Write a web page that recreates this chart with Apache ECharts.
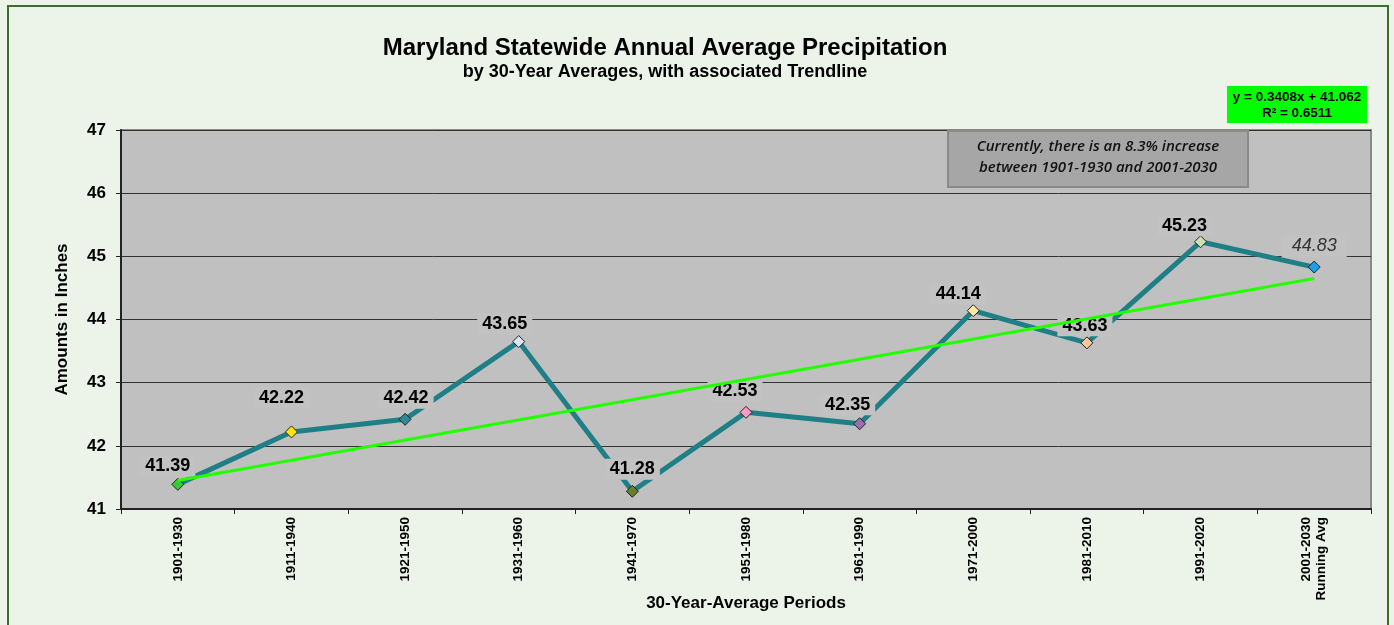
<!DOCTYPE html>
<html>
<head>
<meta charset="utf-8">
<script src="https://cdn.jsdelivr.net/npm/echarts@6/dist/echarts.min.js"></script>
<style>html,body{margin:0;padding:0;background:#ECF4E9;}#c{width:1394px;height:625px;}</style>
</head>
<body>
<div id="c"></div>
<script>
var categories = ['1901-1930','1911-1940','1921-1950','1931-1960','1941-1970','1951-1980','1961-1990','1971-2000','1981-2010','1991-2020','2001-2030\nRunning Avg'];
var precip = [41.39, 42.22, 42.42, 43.65, 41.28, 42.53, 42.35, 44.14, 43.63, 45.23, 44.83];
var markerColors = ['#33CC33','#FFE600','#2E8A94','#D8E4F4','#6B7F2A','#FF99CC','#9B6FAF','#FFE8A0','#FFC89A','#CCE0B4','#1AA0E8'];
var trendStart = 41.45;
var trendEnd = 44.65;
var yTicks = [41, 42, 43, 44, 45, 46, 47];
var labelDx = [-10, -10, 1, -14, 0, -11, -12, -15, -2, -16, 0];
var labelDy = [-18, -34, -21, -18, -22, -21, -19, -17, -17, -16, -21];

var FONT = 'Liberation Sans, Arial, sans-serif';
var chart = echarts.init(document.getElementById('c'), null, {renderer:'canvas'});

var lineData = precip.map(function(v, i){
  var last = i === precip.length - 1;
  return {
    value: v,
    itemStyle: {color: markerColors[i], borderColor: '#222', borderWidth: 1},
    label: {
      show: true,
      position: 'inside',
      offset: [labelDx[i], labelDy[i]],
      formatter: function(p){ return p.value.toFixed(2); },
      fontFamily: FONT,
      fontSize: 18,
      fontWeight: last ? 'normal' : 'bold',
      fontStyle: last ? 'italic' : 'normal',
      color: last ? '#333' : '#000',
      backgroundColor: '#C2C2C2',
      padding: last ? [2, 10, 2, 10] : [2, 5, 1, 5]
    }
  };
});

var trendData = precip.map(function(v, i){
  if (i === 0) return trendStart;
  if (i === precip.length - 1) return trendEnd;
  return null;
});

chart.setOption({
  animation: false,
  backgroundColor: '#ECF4E9',
  title: [{
    text: 'Maryland Statewide Annual Average Precipitation',
    left: 660, top: 31, textAlign: 'center',
    textStyle: {fontFamily: FONT, fontSize: 24, fontWeight: 'bold', color: '#000'}
  },{
    text: 'by 30-Year Averages, with associated Trendline',
    left: 660, top: 58, textAlign: 'center',
    textStyle: {fontFamily: FONT, fontSize: 18, fontWeight: 'bold', color: '#000'}
  }],
  grid: {left: 121, right: 23, top: 130, bottom: 116, containLabel: false, outerBoundsMode: 'none',
    show: true, backgroundColor: '#C0C0C0', borderColor: '#888', borderWidth: 2},
  xAxis: {
    type: 'category',
    data: categories,
    boundaryGap: true,
    name: '30-Year-Average Periods',
    nameLocation: 'middle',
    nameGap: 86,
    nameMoveOverlap: false,
    nameTextStyle: {fontFamily: FONT, fontSize: 17, fontWeight: 'bold', color: '#000'},
    axisLine: {lineStyle: {color: '#222', width: 2}},
    axisTick: {show: true, length: 5, alignWithLabel: false, lineStyle: {color: '#222'}},
    axisLabel: {rotate: 90, interval: 0, margin: 8, fontFamily: FONT, fontSize: 13.5, fontWeight: 'bold', color: '#000', lineHeight: 15}
  },
  yAxis: {
    type: 'value',
    min: 41, max: 47, interval: 1,
    name: 'Amounts in Inches',
    nameLocation: 'middle',
    nameGap: 50,
    nameMoveOverlap: false,
    nameTextStyle: {fontFamily: FONT, fontSize: 17, fontWeight: 'bold', color: '#000'},
    axisLine: {show: true, lineStyle: {color: '#222', width: 2}},
    axisTick: {show: true, length: 5, lineStyle: {color: '#222'}},
    axisLabel: {margin: 15, fontFamily: FONT, fontSize: 17, fontWeight: 'bold', color: '#000',
      formatter: function(v){ return yTicks.indexOf(v) >= 0 ? String(v) : ''; }},
    splitLine: {show: true, lineStyle: {color: '#333', width: 1}}
  },
  series: [{
    type: 'line',
    data: lineData,
    symbol: 'diamond',
    symbolSize: 12,
    lineStyle: {color: '#1E8086', width: 5},
    z: 2
  },{
    type: 'line',
    data: trendData,
    connectNulls: true,
    symbol: 'none',
    lineStyle: {color: '#22FF00', width: 3},
    z: 10,
    silent: true
  }],
  graphic: [{
    type: 'rect', silent: true, z: -1,
    shape: {x: 8, y: 6, width: 1380, height: 640},
    style: {fill: 'none', stroke: '#3E6B2F', lineWidth: 2}
  },{
    type: 'rect', z: 20,
    shape: {x: 948, y: 131, width: 300, height: 56},
    style: {fill: '#A6A6A6', stroke: '#8A8A8A', lineWidth: 2}
  },{
    type: 'text', z: 21,
    style: {x: 1098, y: 147, text: 'Currently, there is an 8.3% increase', align: 'center', verticalAlign: 'middle',
      fontFamily: 'Open Sans, sans-serif', fontSize: 15, fontStyle: 'italic', fontWeight: 600, fill: '#111'}
  },{
    type: 'text', z: 21,
    style: {x: 1098, y: 168, text: 'between 1901-1930 and 2001-2030', align: 'center', verticalAlign: 'middle',
      fontFamily: 'Open Sans, sans-serif', fontSize: 15, fontStyle: 'italic', fontWeight: 600, fill: '#111'}
  },{
    type: 'rect', z: 20,
    shape: {x: 1227, y: 86, width: 140, height: 37},
    style: {fill: '#00FF00'}
  },{
    type: 'text', z: 21,
    style: {x: 1297, y: 97, text: 'y = 0.3408x + 41.062', align: 'center', verticalAlign: 'middle',
      fontFamily: FONT, fontSize: 13.5, fontWeight: 'bold', fill: '#000'}
  },{
    type: 'text', z: 21,
    style: {x: 1297, y: 113, text: 'R² = 0.6511', align: 'center', verticalAlign: 'middle',
      fontFamily: FONT, fontSize: 13.5, fontWeight: 'bold', fill: '#000'}
  }]
});
</script>
</body>
</html>
